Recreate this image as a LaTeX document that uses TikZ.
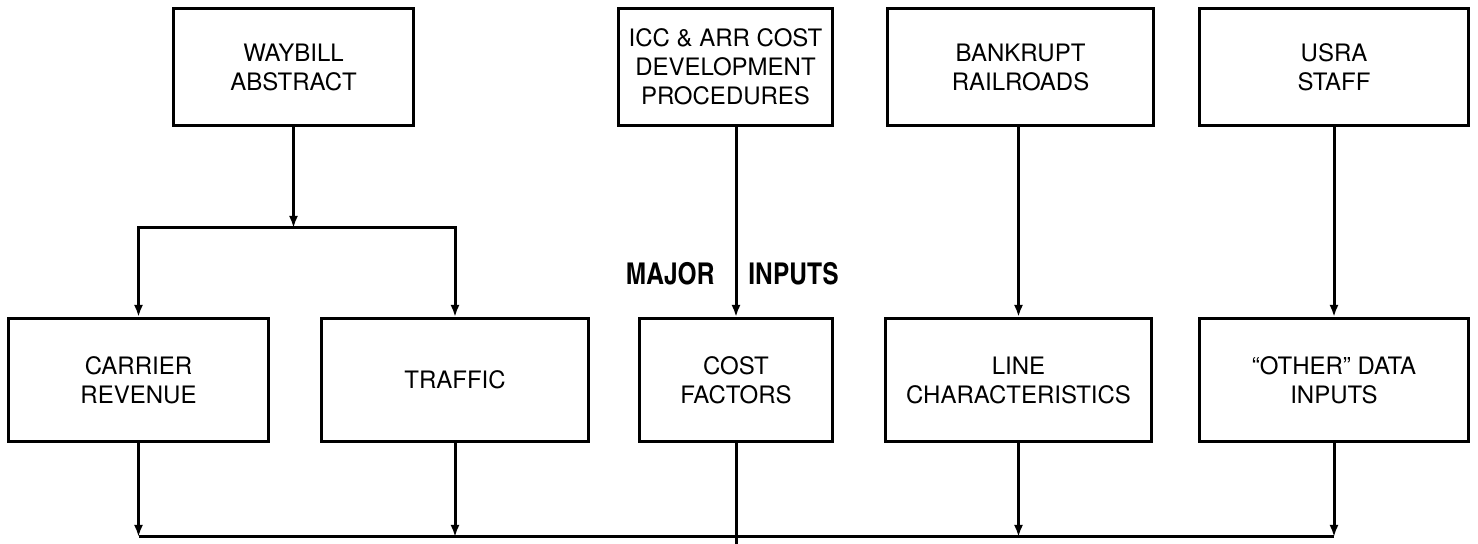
\documentclass[tikz,border=0pt]{standalone}
\usepackage{fontspec}
\setmainfont{TeX Gyre Heros}
\newfontfamily\cnfont{texgyreheroscn-bold.otf}
\usetikzlibrary{positioning,arrows.meta}

\begin{document}
\begin{tikzpicture}[
	x=0.5pt, y=-0.5pt,
	src/.style={
		draw, line width=1.5pt, rectangle,
		minimum height=58.5pt,
		font=\fontsize{12}{14.5}\selectfont, align=center, inner sep=2pt
	},
	data/.style={
		draw, line width=1.5pt, rectangle,
		minimum height=61.5pt,
		font=\fontsize{12}{14.5}\selectfont, align=center, inner sep=2pt
	},
	lbl/.style={font=\cnfont\fontsize{15}{15}\selectfont, inner sep=0pt},
	arr/.style={-{Latex[length=6pt,width=4.5pt]}, line width=1.5pt},
	bus/.style={line width=1.5pt},
	]
	\useasboundingbox (0,0) rectangle (1478,544);
	
	% Sources (top row)
	\node[src, minimum width=120pt]   (waybill)  at (293.5, 67)  {WAYBILL\\ABSTRACT};
	\node[src, minimum width=107pt]   (icc)      at (725.5, 67)  {ICC \& ARR COST\\DEVELOPMENT\\PROCEDURES};
	\node[src, minimum width=133pt]   (bankrupt) at (1020.5, 67) {BANKRUPT\\RAILROADS};
	\node[src, minimum width=134.5pt] (usra)     at (1334, 67)   {USRA\\STAFF};
	
	% Major inputs (bottom row)
	\node[data, minimum width=130pt]   (carrier) at (138.5, 380) {CARRIER\\REVENUE};
	\node[data, minimum width=133.5pt] (traffic) at (455, 380)   {TRAFFIC};
	\node[data, minimum width=96.5pt]  (costf)   at (736, 380)   {COST\\FACTORS};
	\node[data, minimum width=133pt]   (linech)  at (1018.5, 380) {LINE\\CHARACTERISTICS};
	\node[data, minimum width=134.5pt] (other)   at (1334, 380)  {“OTHER” DATA\\INPUTS};
	
	% Label on the cost line
	\coordinate (mi) at (737, 274);
	\node[lbl, left=11pt of mi]  (major)  {MAJOR};
	\node[lbl, right=5.5pt of mi] (inputs) {INPUTS};
	
	% Helper points
	\coordinate (fork) at (296, 228);
	\coordinate (busy) at (0, 537);
	\coordinate (exit) at (0, 560);
	
	% Waybill -> carrier revenue and traffic
	\draw[arr] (waybill.south) -- (waybill.south |- fork);
	\draw[arr] (waybill.south |- fork) -| (carrier.north);
	\draw[arr] (waybill.south |- fork) -| (traffic.north);
	
	% Other sources -> inputs
	\draw[arr] (costf.north |- icc.south) -- (costf.north);
	\draw[arr] (linech.north |- bankrupt.south) -- (linech.north);
	\draw[arr] (other.north |- usra.south) -- (other.north);
	
	% Inputs -> common line
	\draw[arr] (carrier.south) -- (carrier.south |- busy);
	\draw[arr] (traffic.south) -- (traffic.south |- busy);
	\draw[arr] (linech.south)  -- (linech.south |- busy);
	\draw[arr] (other.south)   -- (other.south |- busy);
	\draw[bus] (carrier.south |- busy) -- (other.south |- busy);
	\draw[bus] (costf.south) -- (costf.south |- exit);
	
\end{tikzpicture}
\end{document}
